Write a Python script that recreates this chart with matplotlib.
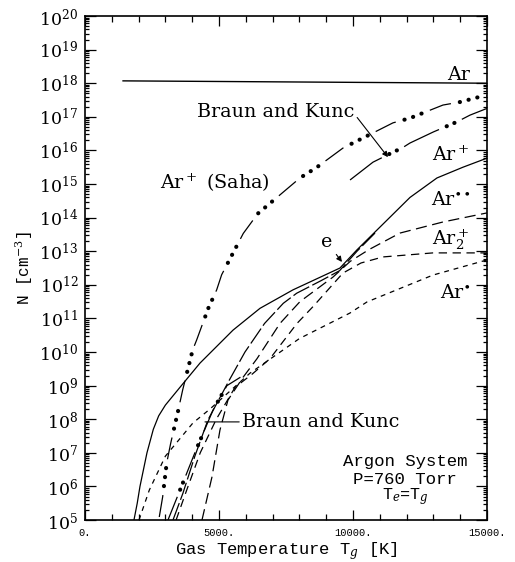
import numpy as np
import matplotlib.pyplot as plt
from matplotlib.ticker import LogLocator, MultipleLocator, FuncFormatter, NullFormatter

plt.rcParams['font.family'] = 'DejaVu Serif'
plt.rcParams['mathtext.fontset'] = 'dejavuserif'
plt.rcParams['lines.scale_dashes'] = False

# gas temperature [K] and log10 of the number density [cm^-3]
t_ar = [1420, 15000]
n_ar = [18.07, 18.0]

t_saha = [2772, 2899, 3048, 3197, 3481, 3645, 4018, 4168, 4600, 4914, 5100, 5907, 6450,
          8022, 8656, 9626, 10372, 11491, 12126, 13357, 13991, 14850, 15000]
n_saha = [5.09, 5.69, 6.69, 7.28, 8.27, 8.87, 10.06, 10.36, 11.30, 11.85, 12.3, 13.53, 14.12,
          15.18, 15.5, 16.07, 16.37, 16.82, 16.96, 17.35, 17.44, 17.62, 17.62]

t_bk_hi = [9890, 10746, 11500, 11828, 12126, 13000, 13879, 14365, 15000]
n_bk_hi = [15.12, 15.65, 15.95, 16.07, 16.22, 16.55, 16.85, 17.05, 17.25]

t_bk_lo = [3097, 3470, 4100, 4776, 5298, 5800]
n_bk_lo = [5.0, 5.74, 7.0, 8.27, 9.0, 9.25]

t_e = [1828, 1950, 2052, 2313, 2550, 2750, 3000, 3545, 4291, 5522, 6530, 7761, 9514,
       10148, 10895, 12126, 13133, 14103, 15000]
n_e = [5.0, 5.5, 6.0, 7.0, 7.7, 8.1, 8.42, 8.95, 9.67, 10.65, 11.3, 11.85, 12.5,
       13.04, 13.63, 14.6, 15.18, 15.5, 15.77]

t_arp = [3284, 3656, 4100, 4589, 5410, 5970, 6700, 7400, 7900, 8800, 9500, 10150, 10895]
n_arp = [5.0, 5.8, 6.9, 7.98, 9.2, 10.0, 10.85, 11.45, 11.75, 12.12, 12.42, 13.0, 13.6]

t_arss = [4366, 4738, 5037, 5335, 5900, 6417, 7275, 8022, 9253, 9900, 10600, 11753,
          13357, 15000]
n_arss = [5.0, 6.28, 7.68, 8.57, 9.25, 9.8, 10.85, 11.5, 12.23, 12.7, 13.05, 13.54,
          13.87, 14.14]

t_ar2 = [3400, 3800, 4300, 4900, 5600, 6250, 6900, 7910, 8507, 9626, 10300, 11119,
         12984, 15000]
n_ar2 = [5.0, 5.9, 7.0, 8.0, 8.95, 9.35, 9.8, 10.85, 11.35, 12.35, 12.65, 12.83,
         12.95, 12.95]

t_ars = [2015, 2400, 3000, 4030, 4660, 6156, 8000, 9887, 10522, 12984, 15000]
n_ars = [5.0, 5.89, 6.9, 7.89, 8.3, 9.37, 10.4, 11.16, 11.49, 12.29, 12.74]

decades = np.arange(5, 21)


def dens(v):
    return 10.0 ** np.asarray(v)


def dash_dots(ax, t, n, dash, ndots, step, lw=0.9, dot=3.0):
    # long dash followed by a few fat dots, like the old plotter styles
    period = dash + step * (ndots + 1)
    ax.plot(t, dens(n), color='k', lw=lw, linestyle=(0, (dash, period - dash)))
    seq = []
    for i in range(ndots - 1):
        seq += [0.1, step - 0.1]
    seq += [0.1, period - (ndots - 1) * step - 0.1]
    ax.plot(t, dens(n), color='k', lw=dot, dash_capstyle='round',
            linestyle=(period - dash - step, seq))


fig = plt.figure(figsize=(5.15, 5.62), dpi=100)
ax = fig.add_axes([0.165, 0.0747, 0.7806, 0.8968])

ax.plot(t_ar, dens(n_ar), color='k', lw=1.0)
ax.plot(t_e, dens(n_e), color='k', lw=0.9)
ax.plot(t_arp, dens(n_arp), color='k', lw=0.9, linestyle=(0, (13, 2.5)))
ax.plot(t_arss, dens(n_arss), color='k', lw=0.9, linestyle=(0, (8, 4)))
ax.plot(t_ar2, dens(n_ar2), color='k', lw=0.9, linestyle=(0, (6, 4)))
ax.plot(t_ars, dens(n_ars), color='k', lw=0.9, linestyle=(0, (3.5, 3.5)))
dash_dots(ax, t_saha, n_saha, 16, 3, 6.5)
dash_dots(ax, t_bk_hi, n_bk_hi, 28, 2, 6)
dash_dots(ax, t_bk_lo, n_bk_lo, 18, 2, 5.5)

ax.set_yscale('log')
ax.set_xlim(0, 15000)
ax.set_ylim(1e5, 1e20)
ax.xaxis.set_major_locator(MultipleLocator(5000))
ax.xaxis.set_minor_locator(MultipleLocator(1000))
ax.xaxis.set_major_formatter(FuncFormatter(lambda v, p: f'{v:.0f}.'))
ax.set_yticks(dens(decades))
ax.yaxis.set_minor_locator(LogLocator(base=10, subs=np.arange(2, 10) * 1.0, numticks=300))
ax.yaxis.set_minor_formatter(NullFormatter())
ax.set_yticklabels([r'$10^{%d}$' % d for d in decades])
ax.set_ylim(1e5, 1e20)

ax.tick_params(which='both', direction='in', top=True, right=True, width=0.9)
ax.tick_params(axis='x', which='major', length=7, labelsize=7.5, pad=6,
               labelfontfamily='Liberation Mono')
ax.tick_params(axis='x', which='minor', length=4)
ax.tick_params(axis='y', which='major', length=8, labelsize=12.5, pad=5)
ax.tick_params(axis='y', which='minor', length=3)
for s in ax.spines.values():
    s.set_linewidth(1.2)

ax.set_xlabel(r'Gas Temperature T$_g$ [K]', family='Liberation Mono', fontsize=12.3, labelpad=1)
ax.set_ylabel(r'N [cm$^{-3}$]', family='Liberation Mono', fontsize=11.5, labelpad=3)

# curve labels
fs = 13.8
ax.text(14365, 10**18.24, 'Ar', ha='right', va='center', fontsize=fs)
ax.text(14365, 10**15.86, r'Ar$^+$', ha='right', va='center', fontsize=fs)
ax.text(14365, 10**14.52, r'Ar$^{\bullet\bullet}$', ha='right', va='center', fontsize=fs)
ax.text(14365, 10**13.33, r'Ar$_2^+$', ha='right', va='center', fontsize=fs)
ax.text(14365, 10**11.76, r'Ar$^{\bullet}$', ha='right', va='center', fontsize=fs)
ax.text(2798, 10**15.03, r'Ar$^+$ (Saha)', ha='left', va='center', fontsize=fs)

ax.annotate('Braun and Kunc', xy=(11306, 10**15.8), xytext=(4180, 10**17.14),
            ha='left', va='center', fontsize=fs,
            arrowprops=dict(arrowstyle='-|>', color='k', lw=0.8, shrinkA=0, shrinkB=0,
                            mutation_scale=8, relpos=(1.0, 0.4)))
ax.annotate('e', xy=(9590, 10**12.68), xytext=(9030, 10**13.27),
            ha='center', va='center', fontsize=fs,
            arrowprops=dict(arrowstyle='-|>', color='k', lw=0.8, shrinkA=1, shrinkB=0,
                            mutation_scale=8))
ax.annotate('Braun and Kunc', xy=(4478, 10**7.92), xytext=(5858, 10**7.92),
            ha='left', va='center', fontsize=fs,
            arrowprops=dict(arrowstyle='-', color='k', lw=0.8, shrinkA=0, shrinkB=0))

ax.text(11940, 10**6.73, 'Argon System', ha='center', va='center',
        family='Liberation Mono', fontsize=12.5)
ax.text(11940, 10**6.22, 'P=760 Torr', ha='center', va='center',
        family='Liberation Mono', fontsize=12.5)
ax.text(11940, 10**5.71, r'T$_e$=T$_g$', ha='center', va='center',
        family='Liberation Mono', fontsize=12)

fig.savefig('out.png', dpi=100)
